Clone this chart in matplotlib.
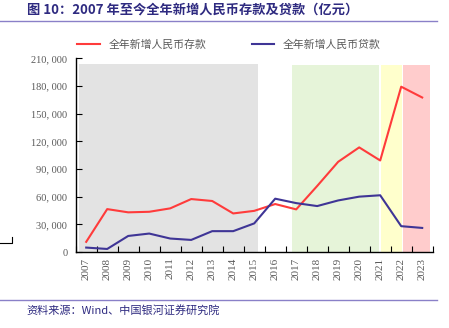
import matplotlib.pyplot as plt
from matplotlib.lines import Line2D
import numpy as np

plt.rcParams['font.family'] = ['Noto Sans CJK SC', 'DejaVu Sans']

years = [str(y) for y in range(2007, 2024)]
deposits = [11000, 46500, 43000, 43600, 47300, 57400, 55300, 41800, 44600,
            52000, 46200, 71600, 97800, 113400, 99200, 179200, 167500]
loans = [4800, 3300, 17400, 20000, 14600, 13100, 22600, 22600, 31000,
         57800, 53000, 49800, 55900, 60000, 61500, 28000, 26100]
yticks = list(range(0, 210001, 30000))

fig = plt.figure(figsize=(4.49, 3.28), dpi=100)
ax = fig.add_axes([0.1686, 0.2317, 0.7951, 0.5906])

x = np.arange(len(years))

# background period shading
ax.axvspan(-0.36, 8.18, ymax=0.97, color='#e3e3e3', lw=0, zorder=0)
ax.axvspan(9.81, 13.94, ymax=0.965, color='#e6f4d9', lw=0, zorder=0)
ax.axvspan(14.04, 15.02, ymax=0.965, color='#ffffcc', lw=0, zorder=0)
ax.axvspan(15.09, 16.37, ymax=0.965, color='#ffcccc', lw=0, zorder=0)

ax.plot(x, deposits, color='#ff3b3b', lw=1.5, label='全年新增人民币存款', zorder=3)
ax.plot(x, loans, color='#3f3596', lw=1.5, label='全年新增人民币贷款', zorder=3)

ax.set_xlim(-0.5, len(years) - 0.5)
ax.set_ylim(0, 210000)
ax.set_yticks(yticks)
ax.set_yticklabels([f'{v:,}'.replace(',', ', ') for v in yticks],
                   family='Liberation Serif', fontsize=7.5, color='#595959')
ax.set_xticks(np.arange(len(years) + 1) - 0.5, minor=False)
ax.set_xticklabels([])
ax.set_xticks(x, minor=True)
ax.set_xticklabels(years, minor=True, rotation=90, family='Liberation Serif',
                   fontsize=8, color='#595959')
ax.tick_params(axis='x', which='minor', length=0, pad=4)
ax.tick_params(axis='x', which='major', direction='in', length=4, width=0.8)
ax.tick_params(axis='y', direction='in', length=4, width=0.8, pad=6)
for s in ['top', 'right']:
    ax.spines[s].set_visible(False)
for s in ['left', 'bottom']:
    ax.spines[s].set_linewidth(1.0)

ax.legend(loc='center', bbox_to_anchor=(0.51, 0.863), bbox_transform=fig.transFigure,
          ncol=2, frameon=False, fontsize=7.8, handlelength=2.1, columnspacing=4.2,
          labelcolor='#595959')

fig.text(0.06, 0.972, '图 10：2007 年至今全年新增人民币存款及贷款（亿元）',
         fontsize=9.5, fontweight='bold', color='#2e2a80', va='center')
fig.add_artist(Line2D([0, 0.973], [1 - 21 / 328, 1 - 21 / 328], color='#8a80c8', lw=1))
fig.add_artist(Line2D([0, 0.973], [1 - 300 / 328, 1 - 300 / 328], color='#8a80c8', lw=1))
fig.text(0.06, 1 - 310 / 328, '资料来源：Wind、中国银河证券研究院',
         fontsize=8, color='#2e2a80', va='center', style='italic')

# small stray bracket mark at left
fig.add_artist(Line2D([0, 12 / 449, 12 / 449], [1 - 243 / 328, 1 - 243 / 328, 1 - 237 / 328],
                      color='black', lw=0.8))

fig.savefig('out.png', dpi=100)
